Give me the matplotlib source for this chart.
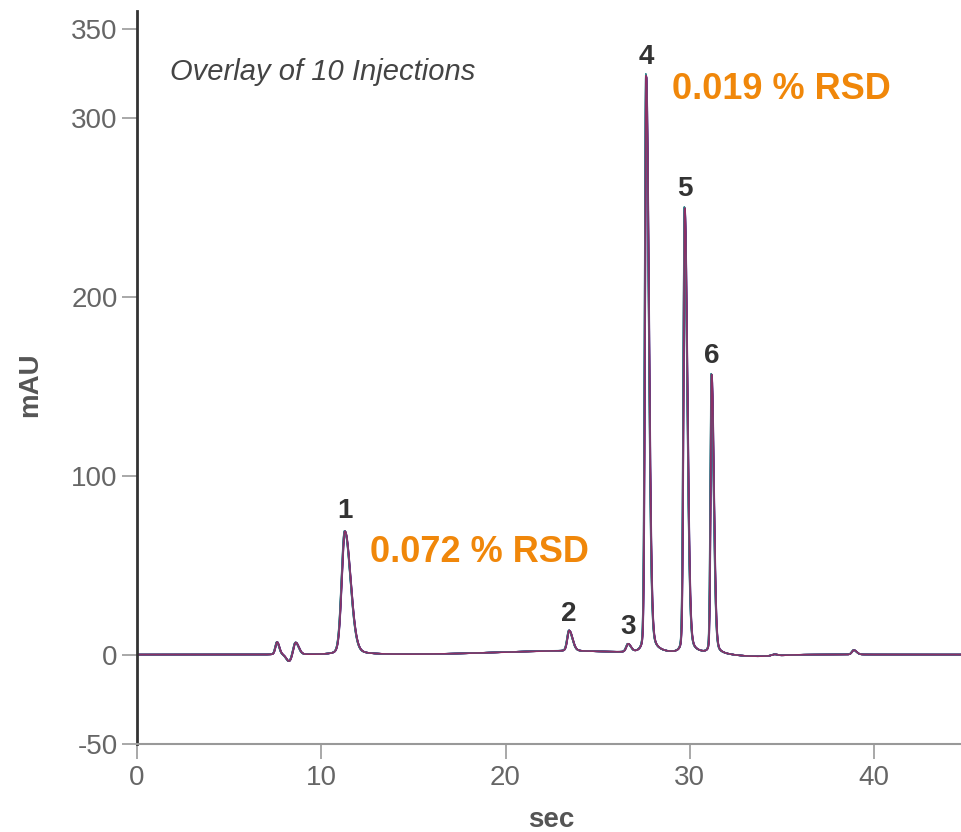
import numpy as np
import matplotlib.pyplot as plt

plt.rcParams['font.family'] = ['Liberation Sans', 'DejaVu Sans']
plt.rcParams['axes.unicode_minus'] = False

# peak table (sec, mAU, sigma)
peak_times = [7.6, 8.25, 8.6, 11.28, 23.45, 26.65, 27.63, 29.72, 31.18, 33.5, 34.6, 38.9]
peak_heights = [7.0, -4.0, 7.0, 69.0, 11.5, 4.5, 323.0, 249.0, 156.0, -1.2, 0.8, 2.5]
peak_sigmas = [0.09, 0.15, 0.12, 0.17, 0.10, 0.10, 0.065, 0.065, 0.055, 1.2, 0.15, 0.10]
peak_tails = [1.3, 1.0, 1.4, 1.8, 1.8, 1.5, 2.2, 2.2, 2.2, 1.0, 1.0, 1.5]

# slow baseline drift
drift_center = 23.0
drift_height = 2.0
drift_width = 3.5

peak_labels = ["1", "2", "3", "4", "5", "6"]
label_times = [11.28, 23.45, 26.65, 27.63, 29.72, 31.18]
label_heights = [69.0, 11.5, 4.5, 323.0, 249.0, 156.0]

# small run-to-run differences of the 10 injections
inj_shifts = [0.0, 0.012, -0.010, 0.020, -0.018, 0.006, -0.006, 0.015, -0.014, 0.003]
inj_scales = [1.0, 0.998, 1.002, 0.997, 1.003, 0.999, 1.001, 0.998, 1.002, 1.0]
inj_colors = ['#2e8b9a', '#4b3c8c', '#8b2f6b', '#5a4a9a', '#3a8f95',
              '#7d2f78', '#2f5f8f', '#6a3a86', '#309090', '#8a3066']

t = np.linspace(0, 45, 9000)


def trace(shift, scale):
    y = drift_height * np.exp(-0.5 * ((t - drift_center) / drift_width) ** 2)
    for rt, h, s, tail in zip(peak_times, peak_heights, peak_sigmas, peak_tails):
        dt = t - (rt + shift)
        sig = np.where(dt < 0, s, s * tail)
        g = np.exp(-0.5 * (dt / sig) ** 2)
        lor = 1.0 / (1.0 + (dt / (sig * 1.5)) ** 2)
        y += h * scale * (0.88 * g + 0.12 * lor)
    return y


fig = plt.figure(figsize=(9.61, 8.32), dpi=100)
ax = fig.add_axes([137 / 961, 1 - 744 / 832, 1 - 137 / 961, (744 - 11) / 832])

for sh, sc, col in zip(inj_shifts, inj_scales, inj_colors):
    ax.plot(t, trace(sh, sc), color=col, lw=1.1)

ax.set_xlim(0, 44.72)
ax.set_ylim(-50, 360)
ax.set_xticks([0, 10, 20, 30, 40])
ax.set_yticks([-50, 0, 100, 200, 300, 350])

for s in ['top', 'right']:
    ax.spines[s].set_visible(False)
ax.spines['left'].set_color('#333333')
ax.spines['left'].set_linewidth(2)
ax.spines['bottom'].set_color('#999999')
ax.spines['bottom'].set_linewidth(1.5)

ax.tick_params(axis='both', direction='out', length=11, width=1.2,
               colors='#999999', labelcolor='#666666', labelsize=20)
ax.tick_params(axis='y', pad=3)
ax.tick_params(axis='x', pad=4)

for lab, lt, lh in zip(peak_labels, label_times, label_heights):
    ax.annotate(lab, (lt, lh), xytext=(0, 20), textcoords='offset pixels',
                ha='center', va='center', fontsize=20, fontweight='bold',
                color='#333333')

ax.text(1.79, 326, "Overlay of 10 Injections", fontsize=21, style='italic',
        color='#444444', va='center')
ax.text(12.65, 57, "0.072 % RSD", fontsize=26, fontweight='bold',
        color='#F0870A', va='center')
ax.text(29.04, 316, "0.019 % RSD", fontsize=26, fontweight='bold',
        color='#F0870A', va='center')

fig.text(551 / 961, 1 - 820 / 832, "sec", fontsize=20, fontweight='bold',
         color='#555555', ha='center', va='center')
fig.text(30 / 961, 1 - 385 / 832, "mAU", fontsize=20, fontweight='bold',
         color='#555555', ha='center', va='center', rotation=90)

fig.savefig('out.png', dpi=100)
